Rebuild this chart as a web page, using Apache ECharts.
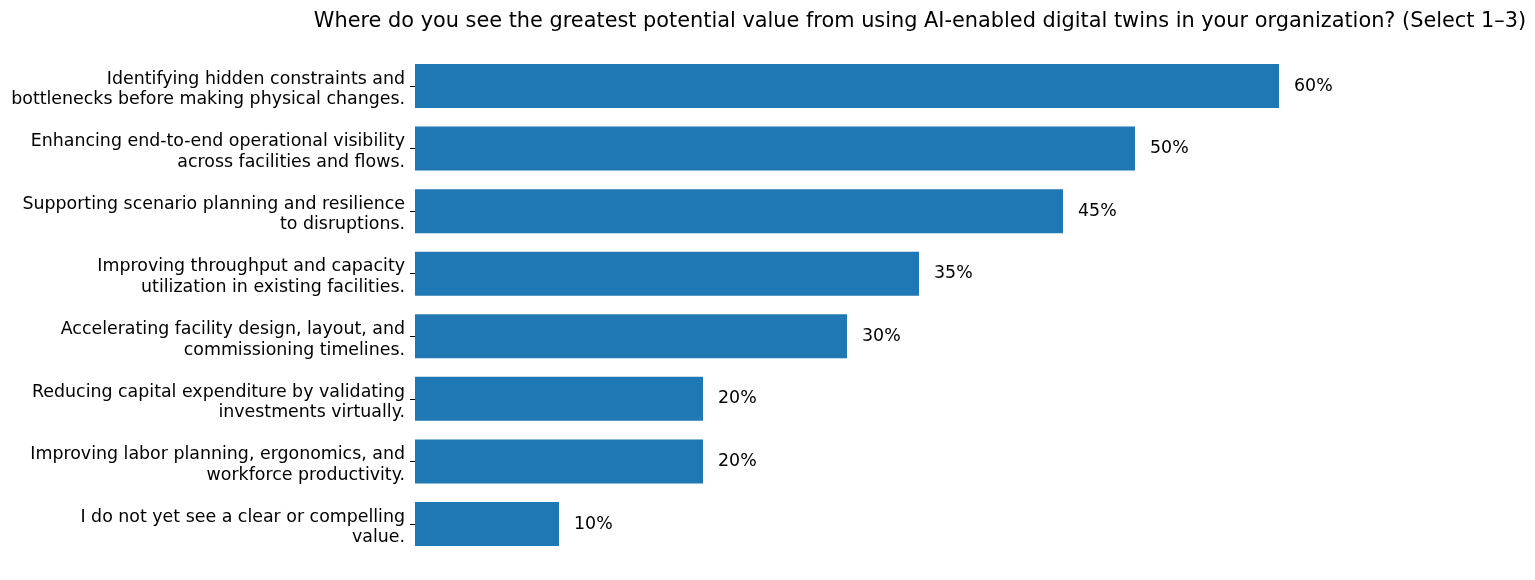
<!DOCTYPE html>
<html>
<head>
<meta charset="utf-8">
<script src="https://cdn.jsdelivr.net/npm/echarts@6/dist/echarts.min.js"></script>
<style>
  html, body { margin: 0; padding: 0; background: #fff; }
  #main { width: 1535px; height: 580px; }
</style>
</head>
<body>
<div id="main"></div>
<script>
    var titleText = 'Where do you see the greatest potential value from using AI-enabled digital twins in your organization? (Select 1\u20133)';

    // categories, top to bottom
    var categories = [
        'Identifying hidden constraints and\nbottlenecks before making physical changes.',
        'Enhancing end-to-end operational visibility\nacross facilities and flows.',
        'Supporting scenario planning and resilience\nto disruptions.',
        'Improving throughput and capacity\nutilization in existing facilities.',
        'Accelerating facility design, layout, and\ncommissioning timelines.',
        'Reducing capital expenditure by validating\ninvestments virtually.',
        'Improving labor planning, ergonomics, and\nworkforce productivity.',
        'I do not yet see a clear or compelling\nvalue.'
    ];
    // percent of respondents
    var values = [60, 50, 45, 35, 30, 20, 20, 10];

    var font = 'DejaVu Sans';
    var myChart = echarts.init(document.getElementById('main'));

    var option = {
        animation: false,
        title: {
            text: titleText,
            left: 915,
            top: 6,
            textAlign: 'center',
            textStyle: { fontFamily: font, fontSize: 20.85, fontWeight: 'normal', color: '#000' }
        },
        grid: { left: 415, right: 112, top: 54.7, bottom: 24.7 },
        xAxis: {
            type: 'value',
            min: 0,
            max: 70,
            show: false
        },
        yAxis: {
            type: 'category',
            data: categories,
            inverse: true,
            axisLine: { show: false },
            axisTick: { show: true, alignWithLabel: true, length: 5, lineStyle: { color: '#000', width: 1 } },
            axisLabel: {
                margin: 10,
                color: '#000',
                align: 'right',
                // small spacer line on top pushes the two text lines a bit lower, like matplotlib
                formatter: function (v) {
                    var lines = v.split('\n');
                    return '{s| }\n' + lines.map(function (l) { return '{a|' + l + '}'; }).join('\n');
                },
                rich: {
                    s: { fontSize: 4, lineHeight: 7 },
                    a: { fontFamily: font, fontSize: 17.4, lineHeight: 20.5, color: '#000', align: 'right' }
                }
            },
            splitLine: { show: false }
        },
        series: [{
            type: 'bar',
            data: values,
            barWidth: 44,
            itemStyle: { color: '#1f77b4' },
            label: {
                show: true,
                position: 'right',
                distance: 15,
                formatter: '{c}%',
                fontFamily: font,
                fontSize: 17.4,
                color: '#000'
            }
        }]
    };
    myChart.setOption(option);
</script>
</body>
</html>
